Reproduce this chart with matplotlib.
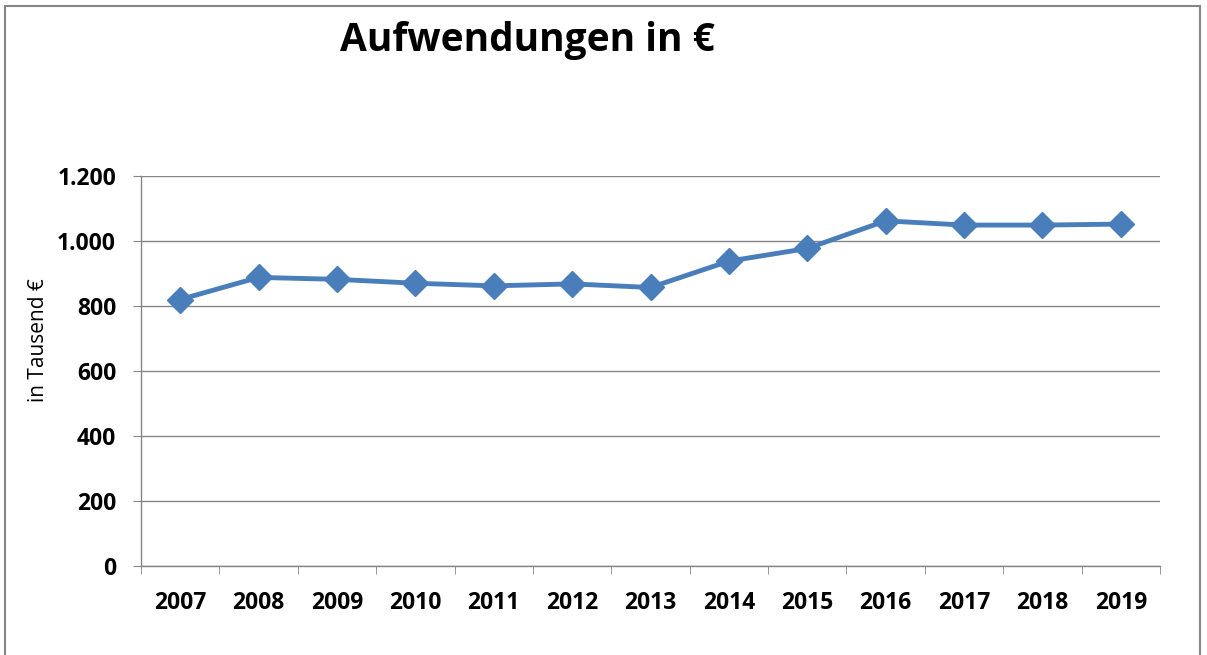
import matplotlib.pyplot as plt
import matplotlib.patches as mpatches
import numpy as np

years = ['2007', '2008', '2009', '2010', '2011', '2012', '2013',
         '2014', '2015', '2016', '2017', '2018', '2019']
aufwendungen = [820, 888, 882, 870, 862, 868, 857, 938, 977, 1062, 1049, 1049, 1052]
y_ticks = [0, 200, 400, 600, 800, 1000, 1200]
y_labels = ['0', '200', '400', '600', '800', '1.000', '1.200']

plt.rcParams['font.family'] = ['Open Sans', 'DejaVu Sans']

fig = plt.figure(figsize=(12.07, 6.55), dpi=100)
ax = fig.add_axes([141 / 1207, 1 - 566 / 655, (1160 - 141) / 1207, (566 - 176) / 655])

x = np.arange(len(years))
ax.plot(x, aufwendungen, color='#4A7EBB', linewidth=3.5, marker='D', markersize=13,
        markerfacecolor='#4A7EBB', markeredgecolor='#4A7EBB', zorder=3)

ax.set_xlim(-0.5, len(years) - 0.5)
ax.set_ylim(0, 1200)
ax.set_yticks(y_ticks)
ax.set_yticklabels(y_labels, fontsize=16.5, fontweight='bold')
ax.set_xticks(x)
ax.set_xticklabels(years, fontsize=16.5, fontweight='bold')
ax.tick_params(axis='x', length=0, pad=18)
ax.set_xticks(np.arange(-0.5, len(years)), minor=True)
ax.tick_params(axis='x', which='minor', length=6, color='#868686', direction='out')
ax.tick_params(axis='y', length=6, color='#868686', direction='out', pad=12)

ax.grid(axis='y', color='#868686', linewidth=1)
ax.set_axisbelow(True)
for s in ['top', 'right']:
    ax.spines[s].set_visible(False)
for s in ['left', 'bottom']:
    ax.spines[s].set_color('#868686')
    ax.spines[s].set_linewidth(1)

ax.set_ylabel('in Tausend €', fontsize=15, fontweight='medium')
ax.yaxis.set_label_coords(-0.090, 0.58)

fig.text(527 / 1207, 1 - 41 / 655, 'Aufwendungen in €', fontsize=28, fontweight='bold',
         ha='center', va='center')

fig.patches.append(mpatches.Rectangle((5 / 1207, -0.05), 1195 / 1207, 1.05 - 6 / 655, fill=False,
                                      edgecolor='#868686', linewidth=1.5,
                                      transform=fig.transFigure, figure=fig))

fig.savefig('out.png', dpi=100)
